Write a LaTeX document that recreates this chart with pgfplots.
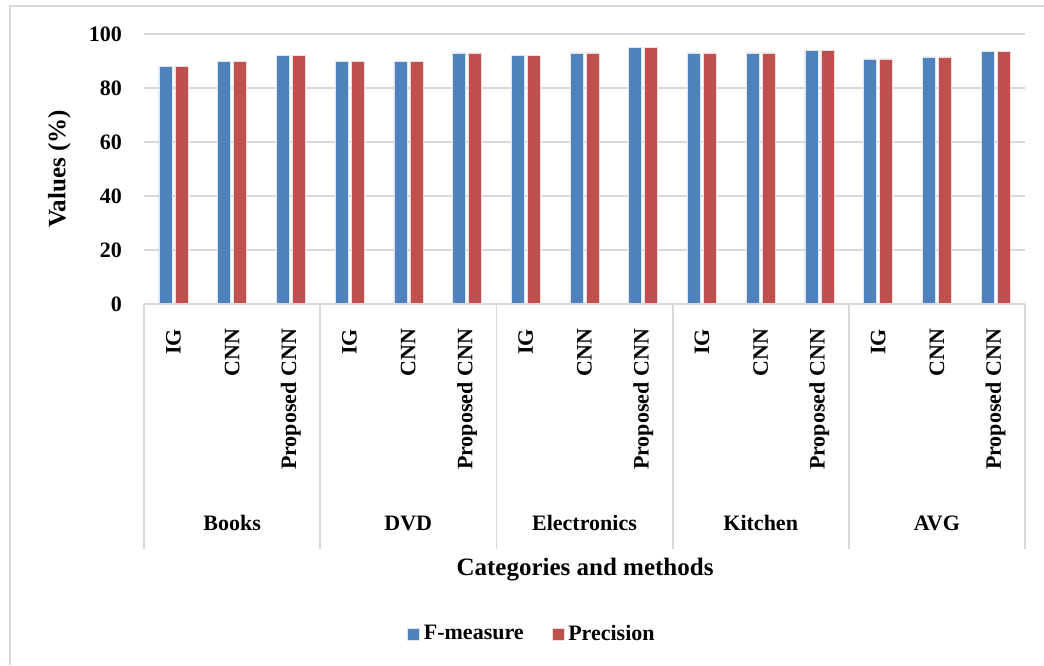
\documentclass[border=0pt]{standalone}
\usepackage{pgfplots}
\pgfplotsset{compat=1.18}
\usepackage{fontspec}
\setmainfont{Liberation Serif}
\definecolor{cblue}{HTML}{4F81BD}
\definecolor{cred}{HTML}{C0504D}
\definecolor{cgrid}{HTML}{D9D9D9}
\begin{document}
\begin{tikzpicture}
\useasboundingbox (0,0) rectangle (522pt,332.5pt);
\draw[cgrid, line width=1pt] (5pt,0) -- (5pt,329.5pt) -- (522pt,329.5pt);
\begin{axis}[
  at={(72pt,180.5pt)}, anchor=south west,
  scale only axis, width=440.5pt, height=135pt,
  ymin=0, ymax=100, ytick={0,20,...,100},
  xmin=-0.5, xmax=14.5,
  xtick={0,...,14},
  xticklabels={IG,CNN,Proposed CNN,IG,CNN,Proposed CNN,IG,CNN,Proposed CNN,IG,CNN,Proposed CNN,IG,CNN,Proposed CNN},
  xticklabel style={rotate=90, anchor=east, font=\fontsize{11}{13}\selectfont\bfseries, xshift=-9pt},
  yticklabel style={font=\fontsize{11}{13}\selectfont\bfseries, xshift=-7.5pt},
  /pgf/number format/assume math mode=true,
  major tick length=0pt,
  axis line style={draw=none},
  ymajorgrids, grid style={cgrid, line width=0.9pt},
  ybar=1.5pt, bar width=6.5pt,
  ylabel={Values (\%)},
  ylabel style={at={(rel axis cs:-0.096,0.5)}, anchor=center, font=\fontsize{12.5}{14}\selectfont\bfseries},
  xlabel={Categories and methods},
  xlabel style={at={(rel axis cs:0.5006,-0.985)}, anchor=center, font=\fontsize{12.5}{14}\selectfont\bfseries},
  legend columns=2,
  legend style={at={(rel axis cs:0.4415,-1.222)}, anchor=center, draw=none, font=\fontsize{11}{13}\selectfont\bfseries, /tikz/every even column/.append style={column sep=12pt}},
  legend image code/.code={\fill[#1] (0pt,-3pt) rectangle (6pt,3pt);},
  clip=false,
]
\addplot[fill=cblue, draw=white!80!cblue, line width=0.3pt] coordinates {(0,88) (1,90) (2,92) (3,90) (4,90) (5,93) (6,92) (7,93) (8,95) (9,93) (10,93) (11,94) (12,90.75) (13,91.5) (14,93.5)};
\addplot[fill=cred, draw=white!80!cred, line width=0.3pt] coordinates {(0,88) (1,90) (2,92) (3,90) (4,90) (5,93) (6,92) (7,93) (8,95) (9,93) (10,93) (11,94) (12,90.75) (13,91.5) (14,93.5)};
\legend{F-measure, Precision}
\draw[cgrid, line width=0.9pt] (rel axis cs:0,0) -- (rel axis cs:1,0);
\pgfplotsinvokeforeach{-0.5,2.5,5.5,8.5,11.5,14.5}{
  \draw[cgrid, line width=0.9pt] (axis cs:#1,0) -- ([yshift=-122.5pt]axis cs:#1,0);
}
\node[font=\fontsize{11}{13}\selectfont\bfseries, anchor=center] at ([yshift=-109.5pt]axis cs:1,0) {Books};
\node[font=\fontsize{11}{13}\selectfont\bfseries, anchor=center] at ([yshift=-109.5pt]axis cs:4,0) {DVD};
\node[font=\fontsize{11}{13}\selectfont\bfseries, anchor=center] at ([yshift=-109.5pt]axis cs:7,0) {Electronics};
\node[font=\fontsize{11}{13}\selectfont\bfseries, anchor=center] at ([yshift=-109.5pt]axis cs:10,0) {Kitchen};
\node[font=\fontsize{11}{13}\selectfont\bfseries, anchor=center] at ([yshift=-109.5pt]axis cs:13,0) {AVG};
\end{axis}
\end{tikzpicture}
\end{document}
